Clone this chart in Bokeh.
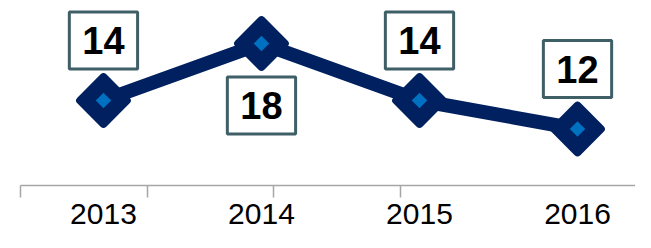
import math
from bokeh.plotting import figure
from bokeh.models import Range1d, FixedTicker, Label, ColumnDataSource
from bokeh.embed import file_html
from bokeh.resources import INLINE

years = ["2013", "2014", "2015", "2016"]
values = [14, 18, 14, 12]
label_side = ["above", "below", "above", "above"]

xs = list(range(len(years)))
src = ColumnDataSource(dict(x=xs, y=values))

p = figure(width=635, height=232, output_backend="svg", toolbar_location=None,
           x_range=Range1d(-0.525, 3.367), y_range=Range1d(8.035, 21.018),
           y_axis_location=None,
           min_border_left=20, min_border_right=0, min_border_top=0, min_border_bottom=47)
p.grid.visible = False
p.outline_line_color = None
p.background_fill_color = "white"
p.border_fill_color = "white"

ax = p.xaxis[0]
ax.ticker = FixedTicker(ticks=xs, minor_ticks=[-0.525, 0.278, 1.076, 1.88])
ax.major_label_overrides = {i: y for i, y in enumerate(years)}
ax.major_tick_line_color = None
ax.major_tick_out = 0
ax.major_tick_in = 0
ax.minor_tick_out = 12
ax.minor_tick_in = 0
ax.minor_tick_line_color = "#a6a6a6"
ax.minor_tick_line_width = 1.5
ax.axis_line_color = "#a6a6a6"
ax.axis_line_width = 1.5
ax.major_label_standoff = 6
ax.major_label_text_font = "Liberation Sans"
ax.major_label_text_font_size = "30px"
ax.major_label_text_color = "black"

p.line("x", "y", source=src, line_width=14, line_color="#002060", line_join="round")
p.scatter("x", "y", source=src, marker="square", size=33, angle=math.pi / 4,
          fill_color="#002060", line_color="#002060", line_width=8, line_join="round")
p.scatter("x", "y", source=src, marker="square", size=11, angle=math.pi / 4,
          fill_color="#0070c0", line_color=None)

for xv, yv, side in zip(xs, values, label_side):
    p.add_layout(Label(x=xv, y=yv, text=str(yv), y_offset=60 if side == "above" else -62,
                       text_align="center", text_baseline="middle",
                       text_font="Liberation Sans", text_font_style="bold",
                       text_font_size="38px", text_color="black",
                       background_fill_color="white", border_line_color="#3f5f66",
                       border_line_width=3, padding=(13, 15)))

open("out.html", "w").write(file_html(p, INLINE))
